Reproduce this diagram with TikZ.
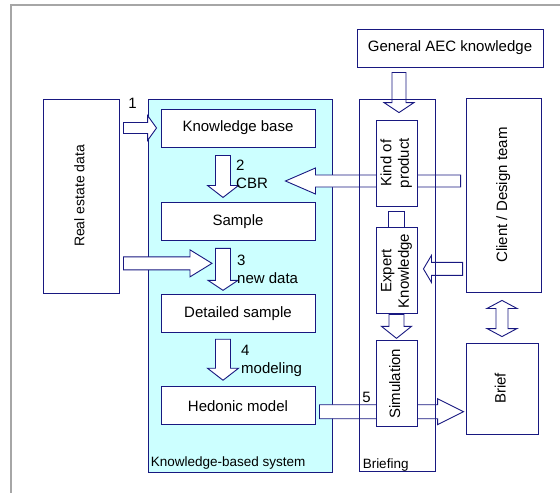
\documentclass[tikz,border=0pt]{standalone}
\usepackage{fontspec}
\setmainfont{Liberation Sans}
\usetikzlibrary{positioning, calc, backgrounds}

\definecolor{kbsline}{RGB}{24,24,128}
\definecolor{kbsfill}{RGB}{204,255,255}

\tikzset{
  box/.style      = {rectangle, draw=kbsline, line width=0.9pt, fill=white,
                     align=center, inner sep=2pt,
                     font=\fontsize{15}{17.5}\selectfont},
  hbox/.style     = {box, minimum width=154pt, minimum height=38pt},
  vbox/.style     = {box, minimum width=41pt, minimum height=86pt},
  group/.style    = {rectangle, draw=kbsline, line width=0.9pt},
  grouplbl/.style = {inner sep=0pt, anchor=base west,
                     font=\fontsize{13.5}{16}\selectfont},
  steplbl/.style  = {inner sep=0pt, align=left,
                     font=\fontsize{15}{18}\selectfont},
  barrow/.style   = {draw=kbsline, fill=white, line width=0.9pt, line join=miter},
  frame/.style    = {draw=black!35, line width=1.5pt},
}

% text turned upright in a box
\newcommand\vtxt[1]{\rotatebox{90}{\begin{tabular}{@{}c@{}}#1\end{tabular}}}

% block arrow: start, end, shaft half width, head half width, head length
\newcommand\blockarrow[5]{%
  \draw[barrow] let \p1=#1, \p2=#2,
      \n1={atan2(\y2-\y1,\x2-\x1)}, \n2={veclen(\x2-\x1,\y2-\y1)} in
    [shift={(\p1)}, rotate=\n1]
    (0pt,#3pt) -- ({\n2-#5pt},#3pt) -- ({\n2-#5pt},#4pt) -- (\n2,0pt)
    -- ({\n2-#5pt},-#4pt) -- ({\n2-#5pt},-#3pt) -- (0pt,-#3pt) -- cycle;}

% same, with a head at both ends
\newcommand\dblarrow[5]{%
  \draw[barrow] let \p1=#1, \p2=#2,
      \n1={atan2(\y2-\y1,\x2-\x1)}, \n2={veclen(\x2-\x1,\y2-\y1)} in
    [shift={(\p1)}, rotate=\n1]
    (0pt,0pt) -- (#5pt,#4pt) -- (#5pt,#3pt) -- ({\n2-#5pt},#3pt)
    -- ({\n2-#5pt},#4pt) -- (\n2,0pt) -- ({\n2-#5pt},-#4pt)
    -- ({\n2-#5pt},-#3pt) -- (#5pt,-#3pt) -- (#5pt,-#4pt) -- cycle;}

\begin{document}
\begin{tikzpicture}[x=1pt, y=-1pt]
  \useasboundingbox (0,0) rectangle (560,493);
  \draw[frame] (11,493) -- (11,5) -- (560,5);

  % sources
  \node[box, minimum width=76pt, minimum height=194pt,
        font=\fontsize{14}{16.5}\selectfont] (real) at (81,196) {\vtxt{Real estate data}};
  \node[box, minimum width=186pt, minimum height=38pt] (aec) at (450,48) {General AEC knowledge};

  % knowledge-based system
  \node[hbox] (kb) at (238,128) {Knowledge base};
  \node[hbox, below=55pt of kb] (sample) {Sample};
  \node[hbox, below=53pt of sample] (detailed) {Detailed sample};
  \node[hbox, below=53pt of detailed] (hedonic) {Hedonic model};

  % briefing
  \node[group, minimum width=76pt, minimum height=372pt] (briefing) at (397,285) {};
  \node[grouplbl] at ($(briefing.south west)+(4,-3)$) {Briefing};
  \node[vbox] (kind) at (396.5,163) {\vtxt{Kind of\\product}};
  \node[vbox, below=21pt of kind] (expert) {\vtxt{Expert\\Knowledge}};
  \node[vbox, below=26pt of expert] (sim) {\vtxt{Simulation}};
  \draw[barrow] ($(kind.south)+(-8,5)$) rectangle ($(expert.north)+(8,0)$);

  \node[box, minimum width=75pt, minimum height=194pt] (client) at (503.5,195) {\vtxt{Client / Design team}};
  \node[box, minimum width=72pt, minimum height=91pt] (brief) at (502,388.5) {\vtxt{Brief}};

  % step numbers
  \node[steplbl] at ($(real.east |- kb.west)+(13,-25)$) {1};
  \node[steplbl, anchor=west] at ($(kb.south)+(-2,27)$) {2\\CBR};
  \node[steplbl, anchor=west] at ($(sample.south)+(-1,27.5)$) {3\\new data};
  \node[steplbl, anchor=west] at ($(detailed.south)+(3,27.5)$) {4\\modeling};
  \node[steplbl] at ($(hedonic.east)+(51,-8)$) {5};

  \begin{scope}[on background layer]
    \node[group, fill=kbsfill, minimum width=184pt, minimum height=373pt] (kbs) at (240,285.5) {};
    \node[grouplbl] at ($(kbs.south west)+(3,-6)$) {Knowledge-based system};

    \blockarrow{($(real.east |- kb.west)+(4,0)$)}{($(kb.west)+(-4,0)$)}{5.5}{12.5}{9}
    \blockarrow{($(kb.south)+(-15,8)$)}{($(sample.north)+(-15,-5)$)}{7.5}{15.5}{12}
    \blockarrow{($(sample.south)+(-15,7)$)}{($(detailed.north)+(-15,-4)$)}{7.5}{15}{10}
    \blockarrow{($(real.east |- detailed.north)+(4,-31)$)}{($(detailed.north)+(-26,-31)$)}{6.5}{13.5}{22}
    \blockarrow{($(detailed.south)+(-15,6)$)}{($(hedonic.north)+(-15,-6)$)}{7.5}{15.5}{12}
    \blockarrow{($(hedonic.east)+(4,6)$)}{($(brief.west |- hedonic.east)+(-2,6)$)}{7}{13}{26}

    \blockarrow{($(kind.north |- aec.south)+(2.5,5)$)}{($(kind.north)+(2.5,-7)$)}{7}{15}{10}
    \blockarrow{($(client.west |- kind.center)+(-5,18)$)}{($(kb.east |- kind.center)+(-30,18)$)}{6}{13}{30}
    \blockarrow{($(client.west |- expert.center)+(-3,-2)$)}{($(expert.east)+(6,-2)$)}{6.5}{13.5}{8}
    \blockarrow{(expert.south)}{($(sim.north)+(0,-2)$)}{7.5}{15}{12}
    \dblarrow{($(client.south -| brief.north)+(0,8)$)}{($(brief.north)+(0,-6)$)}{6}{15}{8}
  \end{scope}
\end{tikzpicture}
\end{document}
